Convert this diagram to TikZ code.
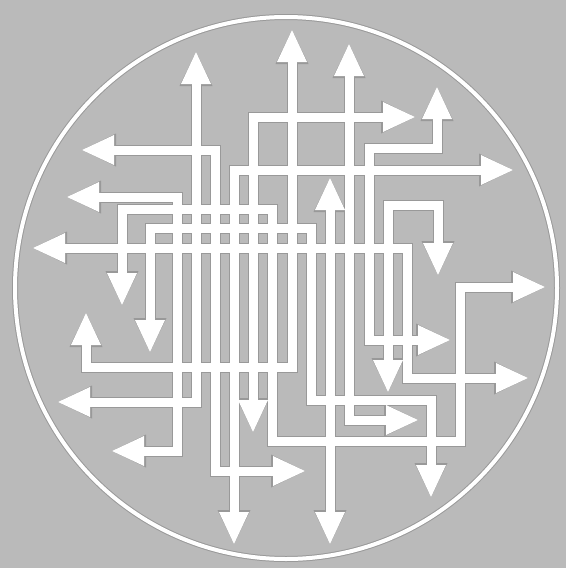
\documentclass[tikz,border=0pt]{standalone}
\usetikzlibrary{arrows.meta}

\definecolor{bggray}{gray}{0.73}
\definecolor{edgegray}{gray}{0.6}

% the thirteen strips, one per grid column, drawn twice (edge, then white)
\newcommand\wirepaths[1]{%
  \draw[#1] (67,197) -- (177,197) -- (177,451) -- (112,451);
  \draw[#1] (196,52) -- (196,402) -- (58,402);
  \draw[#1] (82,150) -- (215,150) -- (215,471) -- (305,471);
  \draw[#1] (513,170) -- (234,170) -- (234,544);
  \draw[#1] (415,117) -- (253,117) -- (253,432);
  \draw[#1] (122,305) -- (122,209) -- (272,209) -- (272,441) -- (460,441) -- (460,287) -- (545,287);
  \draw[#1] (292,30) -- (292,367) -- (86,367) -- (86,313);
  \draw[#1] (150,352) -- (150,228) -- (311,228) -- (311,400) -- (431,400) -- (431,497);
  \draw[#1] (330,178) -- (330,544);
  \draw[#1] (349,44) -- (349,420) -- (418,420);
  \draw[#1] (437,87) -- (437,148) -- (369,148) -- (369,340) -- (450,340);
  \draw[#1] (438,275) -- (438,205) -- (388,205) -- (388,392);
  \draw[#1] (33,248) -- (407,248) -- (407,378) -- (528,378);
}

\begin{document}
\begin{tikzpicture}[x=1pt, y=-1pt,
    rim/.style={line width=#1},
    edge/.style={draw=edgegray, line width=11pt, <->,
      >={Triangle[length=34pt, width=33pt, line width=0pt]}},
    wire/.style={draw=white, line width=9pt, <->,
      >={Triangle[length=32pt, width=30pt, line width=0pt]}}]
  \fill[bggray] (0,0) rectangle (566,568);
  % outer ring
  \draw[edgegray, rim=6pt] (286,288) circle[radius=271];
  \draw[white, rim=4pt] (286,288) circle[radius=271];
  % maze of arrows
  \wirepaths{edge}
  \wirepaths{wire}
\end{tikzpicture}
\end{document}
